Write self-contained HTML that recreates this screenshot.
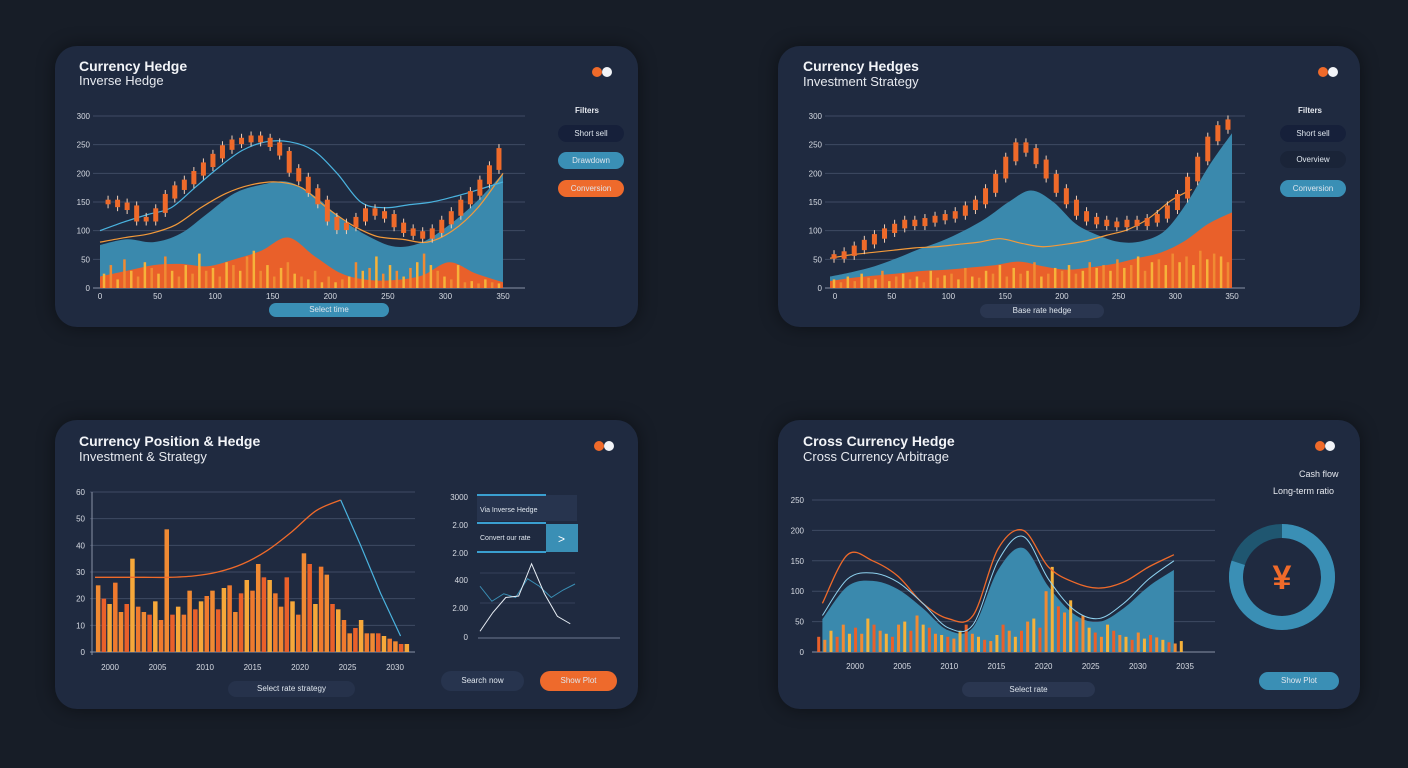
<!DOCTYPE html>
<html><head><meta charset="utf-8">
<style>
html,body{margin:0;padding:0;background:#171d27;width:1408px;height:768px;overflow:hidden;font-family:"Liberation Sans",sans-serif}
.panel{position:absolute;background:#1f2a40;border-radius:22px;box-shadow:0 0 18px rgba(0,0,0,.45)}
.t1{position:absolute;color:#f2f4f8;font-size:14px;font-weight:bold;white-space:nowrap}
.t2{position:absolute;color:#e6e9ef;font-size:13px;white-space:nowrap}
.btn{position:absolute;border-radius:10px;color:#dfe6ee;font-size:8px;text-align:center}
svg{position:absolute;left:0;top:0}
</style></head><body>
<div class="panel" style="left:55px;top:46px;width:583px;height:281px"></div>
<div class="panel" style="left:778px;top:46px;width:582px;height:281px"></div>
<div class="panel" style="left:55px;top:420px;width:583px;height:289px"></div>
<div class="panel" style="left:778px;top:420px;width:582px;height:289px"></div>

<div class="t1" style="left:79px;top:58px">Currency Hedge</div>
<div class="t2" style="left:79px;top:73px">Inverse Hedge</div>
<div class="t1" style="left:803px;top:58px">Currency Hedges</div>
<div class="t2" style="left:803px;top:74px">Investment Strategy</div>
<div class="t1" style="left:79px;top:433px">Currency Position &amp; Hedge</div>
<div class="t2" style="left:79px;top:449px">Investment &amp; Strategy</div>
<div class="t1" style="left:803px;top:433px">Cross Currency Hedge</div>
<div class="t2" style="left:803px;top:449px">Cross Currency Arbitrage</div>

<div class="t2" style="left:575px;top:106px;font-size:8px;font-weight:bold">Filters</div>
<div class="btn" style="left:558px;top:125px;width:66px;height:17px;line-height:17px;background:#16203a">Short sell</div>
<div class="btn" style="left:558px;top:152px;width:66px;height:17px;line-height:17px;background:#3a8fb5">Drawdown</div>
<div class="btn" style="left:558px;top:180px;width:66px;height:17px;line-height:17px;background:#ee6a2c">Conversion</div>
<div class="btn" style="left:269px;top:303px;width:120px;height:14px;line-height:14px;background:#3a8fb5;border-radius:8px">Select time</div>

<div class="t2" style="left:1298px;top:106px;font-size:8px;font-weight:bold">Filters</div>
<div class="btn" style="left:1280px;top:125px;width:66px;height:17px;line-height:17px;background:#16203a">Short sell</div>
<div class="btn" style="left:1280px;top:151px;width:66px;height:17px;line-height:17px;background:#1a2438">Overview</div>
<div class="btn" style="left:1280px;top:180px;width:66px;height:17px;line-height:17px;background:#3a8fb5">Conversion</div>
<div class="btn" style="left:980px;top:304px;width:124px;height:14px;line-height:14px;background:#2a3650;border-radius:8px">Base rate hedge</div>

<div class="btn" style="left:228px;top:681px;width:127px;height:16px;line-height:16px;background:#26324b">Select rate strategy</div>
<div class="btn" style="left:441px;top:671px;width:83px;height:20px;line-height:20px;background:#27344e">Search now</div>
<div class="btn" style="left:540px;top:671px;width:77px;height:20px;line-height:20px;background:#ee6a2c">Show Plot</div>
<div class="btn" style="left:962px;top:682px;width:133px;height:15px;line-height:15px;background:#2a3650">Select rate</div>
<div class="btn" style="left:1259px;top:672px;width:80px;height:18px;line-height:18px;background:#3a8fb5">Show Plot</div>
<div class="t2" style="left:1299px;top:469px;font-size:9px">Cash flow</div>
<div class="t2" style="left:1273px;top:486px;font-size:9px">Long-term ratio</div>

<svg id="c" width="1408" height="768"></svg>
<script>
// ---- data ----
const p1Ticks=["300","250","200","150","100","50","0"];
const p1XLabels=["0","50","100","150","200","250","300","350"];
const p1Blue=[75,85,80,95,130,165,180,185,160,120,90,72,80,110,150,200];
const p1Orange=[20,30,40,42,38,50,65,88,55,25,14,14,22,45,25,10];
const p1Bars=[25,40,15,50,30,20,45,35,25,55,30,20,40,25,60,30,35,20,45,40,30,55,65,30,40,20,35,45,25,20,15,30,10,20,10,15,20,45,30,35,55,25,40,30,20,35,45,60,40,30,20,15,40,10,12,8,15,10,8];
const p1Candles=[150,145,140,120,120,135,160,175,185,200,215,230,245,255,258,262,258,250,235,205,190,170,150,120,105,110,120,135,130,125,110,100,95,90,100,115,130,150,165,185,210,240];
const p1LineBlue=[100,115,128,140,175,210,240,255,255,240,200,150,140,145,150,160,172,185];
const p1LineOrange=[80,88,95,110,140,165,180,185,175,140,110,90,85,80,100,140,200];

const p2Blue=[20,28,38,52,68,82,100,122,150,170,150,112,92,80,82,100,150,215,270];
const p2Orange=[12,18,22,26,30,32,36,40,46,38,32,36,42,52,62,82,112,132];
const p2Bars=[15,10,20,12,25,18,15,30,12,20,25,15,20,10,30,18,22,25,15,35,20,18,30,25,40,20,35,25,30,45,20,25,35,30,40,25,30,45,35,40,30,50,35,40,55,30,45,50,40,60,45,55,40,65,50,60,55,45];
const p2Candles=[55,60,70,80,90,100,108,115,112,118,122,125,130,140,150,170,195,225,250,240,220,195,170,150,130,120,115,112,110,115,112,118,125,140,160,190,225,260,280,290];

const p3Ticks=["60","50","40","30","20","10","0"];
const p3XLabels=["2000","2005","2010","2015","2020","2025","2030"];
const p3Bars=[25,20,18,26,15,18,35,17,15,14,19,12,46,14,17,14,23,16,19,21,23,16,24,25,15,22,27,23,33,28,27,22,17,28,19,14,37,33,18,32,29,18,16,12,7,9,12,7,7,7,6,5,4,3,3];
const p3Line=[28,28,28,28,28.5,30,33,38,45,53,57];
const p3Blue=[57,40,22,6];
const miniWhite=[0.5,3,5,5.2,9.5,5.5,2.5,1.5];
const miniBlue=[6.5,4.5,5.5,5,7.5,6.5,5,6,6.8];

const p4Ticks=["250","200","150","100","50","0"];
const p4XLabels=["2000","2005","2010","2015","2020","2025","2030","2035","2040"];
const p4Blue=[60,120,130,115,80,40,45,150,190,120,70,55,80,120,150];
const p4Orange=[80,160,150,125,80,55,60,170,200,140,115,105,115,140,160];
const p4Bars=[25,20,35,25,45,30,40,30,55,45,35,30,25,45,50,35,60,45,40,30,28,25,22,35,45,30,25,20,18,28,45,35,25,35,50,55,40,100,140,75,65,85,50,60,40,32,25,45,35,28,25,20,32,22,28,24,20,16,14,18];
const donutValue=[0.8];

// ---- helpers ----
const svg=document.getElementById('c');
const NS='http://www.w3.org/2000/svg';
function mk(tag,attrs,parent){const e=document.createElementNS(NS,tag);for(const k in attrs)e.setAttribute(k,attrs[k]);(parent||svg).appendChild(e);return e;}
function smooth(pts){let d='M'+pts[0][0]+','+pts[0][1];for(let i=0;i<pts.length-1;i++){const p0=pts[i-1]||pts[i],p1=pts[i],p2=pts[i+1],p3=pts[i+2]||p2;d+=' C'+(p1[0]+(p2[0]-p0[0])/6)+','+(p1[1]+(p2[1]-p0[1])/6)+' '+(p2[0]-(p3[0]-p1[0])/6)+','+(p2[1]-(p3[1]-p1[1])/6)+' '+p2[0]+','+p2[1];}return d;}
function axes(x0,x1,yTop,yBot,vmax){return{x:(f)=>x0+f*(x1-x0),y:(v)=>yBot-v/vmax*(yBot-yTop)};}
function series(arr,ax,xa,xb){return arr.map((v,i)=>[ax.x(xa+(xb-xa)*i/(arr.length-1)),ax.y(v)]);}
function grid(x0,x1,yTop,yBot,ticks,lx){ticks.forEach((t,i)=>{const y=yTop+i*(yBot-yTop)/(ticks.length-1);
 const l=mk('line',{x1:x0,x2:x1,y1:y,y2:y,stroke:i==ticks.length-1?'#8a93a6':'#3f4a63','stroke-width':1});
 
 const tx=mk('text',{x:lx,y:y+3,fill:'#d7dbe3','font-size':8,'text-anchor':'end','font-family':'Liberation Sans'});tx.textContent=t;
 });}
function xlabels(x0,x1,y,labels){labels.forEach((t,i)=>{const tx=mk('text',{x:x0+i*(x1-x0)/(labels.length-1),y:y,fill:'#d7dbe3','font-size':8,'text-anchor':'middle','font-family':'Liberation Sans'});tx.textContent=t;
 });}
function area(arr,ax,xa,xb,fill,name){const p=series(arr,ax,xa,xb);const d=smooth(p)+' L'+p[p.length-1][0]+','+ax.y(0)+' L'+p[0][0]+','+ax.y(0)+'Z';
 const e=mk('path',{d:d,fill:fill});}
function line(arr,ax,xa,xb,col,w,name){const e=mk('path',{d:smooth(series(arr,ax,xa,xb)),fill:'none',stroke:col,'stroke-width':w});}
function pline(arr,ax,xa,xb,col,w,name){const e=mk('polyline',{points:series(arr,ax,xa,xb).map(p=>p.join(',')).join(' '),fill:'none',stroke:col,'stroke-width':w});}
function bars(arr,ax,xa,xb,bw,cols,name){arr.forEach((v,i)=>{const x=ax.x(xa+(xb-xa)*i/(arr.length-1));const r=mk('rect',{x:x-bw/2,y:ax.y(v),width:bw,height:ax.y(0)-ax.y(v),fill:cols[i%cols.length]});
 });}
function candles(arr,ax,xa,xb,name){arr.forEach((v,i)=>{const x=ax.x(xa+(xb-xa)*i/(arr.length-1));const prev=i?arr[i-1]:v;const top=ax.y(Math.max(v,prev)+4),bot=ax.y(Math.min(v,prev)-4);
 mk('line',{x1:x,x2:x,y1:top-4,y2:bot+4,stroke:'#f2d0b8','stroke-width':1});
 const r=mk('rect',{x:x-2.5,y:top,width:5,height:Math.max(4,bot-top),fill:'#ef6a2a'});});}

// ---- panel 1 ----
let a=axes(100,503,116,288,300);
grid(93,525,116,288,p1Ticks,90);
xlabels(100,503,299,p1XLabels);
area(p1Blue,a,0.0,1,'#3a89ad','blue-area');
area(p1Orange,a,0.0,1,'#e9602a','orange-area');
bars(p1Bars,a,0.01,0.99,2.5,['#f6b23a','#f08a33'],'volume-bar');
line(p1LineOrange,a,0.0,1,'#f39a3a',1.2,'orange-line');
line(p1LineBlue,a,0.0,1,'#4ab3df',1.2,'blue-line');
candles(p1Candles,a,0.02,0.99,'candle');

// ---- panel 2 ----
a=axes(830,1232,116,288,300);
grid(825,1245,116,288,p1Ticks,822);
xlabels(835,1232,299,p1XLabels);
area(p2Blue,a,0,1,'#3a89ad','blue-area');
area(p2Orange,a,0,1,'#e9602a','orange-area');
bars(p2Bars,a,0.01,0.99,2.5,['#f6b23a','#f08a33'],'volume-bar');
line(p2Orange.map(v=>v+40),a,0,0.9,'#f39a3a',1.2,'orange-line');
candles(p2Candles,a,0.01,0.99,'candle');

// ---- panel 3 ----
a=axes(95,410,492,652,60);
grid(90,415,492,652,p3Ticks,85);
mk('line',{x1:92,x2:92,y1:492,y2:655,stroke:'#8a93a6'});
xlabels(110,395,670,p3XLabels);
bars(p3Bars,a,0.01,0.99,4.5,['#f08a33','#e9602a','#f6a83a','#ef7a2e'],'bar');
line(p3Line,a,0,0.78,'#ef6a2a',1.3,'orange-line');
pline(p3Blue,a,0.78,0.97,'#4ab3df',1.2,'blue-line');
// mini chart
const m=axes(480,575,560,635,10);
[["3000",497],["2.00",525],["2.00",553],["400",580],["2.00",608],["0",637]].forEach(t=>{const tx=mk('text',{x:468,y:t[1]+3,fill:'#d7dbe3','font-size':8,'text-anchor':'end'});tx.textContent=t[0];});
mk('rect',{x:477,y:495,width:100,height:26,fill:'#27344e'});
mk('rect',{x:546,y:524,width:32,height:28,fill:'#3a8fb5'});
mk('line',{x1:477,x2:546,y1:495,y2:495,stroke:'#3a9fd0','stroke-width':2});
mk('line',{x1:477,x2:546,y1:523,y2:523,stroke:'#3a9fd0','stroke-width':2});
mk('line',{x1:477,x2:546,y1:552,y2:552,stroke:'#3a9fd0','stroke-width':2});
mk('line',{x1:480,x2:575,y1:573,y2:573,stroke:'#34405a'});
mk('line',{x1:480,x2:575,y1:603,y2:603,stroke:'#34405a'});
let tx=mk('text',{x:480,y:512,fill:'#dfe6ee','font-size':7});tx.textContent='Via Inverse Hedge';
tx=mk('text',{x:480,y:540,fill:'#dfe6ee','font-size':7});tx.textContent='Convert our rate';
tx=mk('text',{x:558,y:543,fill:'#fff','font-size':12});tx.textContent='>';
mk('line',{x1:478,x2:620,y1:638,y2:638,stroke:'#6d7890'});
pline(miniBlue,m,0,1,'#3a8fb5',1,'mini-blue-line');
pline(miniWhite,m,0,0.95,'#e8eef5',1,'mini-white-line');
// ---- panel 4 ----
a=axes(815,1185,500,652,250);
grid(812,1215,500,652,p4Ticks,804);
xlabels(855,1185,669,p4XLabels.slice(0,8));
area(p4Blue.map(v=>v*0.9),a,0.02,0.97,'#3a89ad','blue-area');
bars(p4Bars,a,0.01,0.99,3,['#e9602a','#f08a33','#f6b23a'],'bar');
line(p4Orange,a,0.02,0.97,'#ef6a2a',1.3,'orange-line');
line(p4Blue,a,0.02,0.97,'#8fd3f0',1,'light-line');
// donut
const cx=1282,cy=577,R=46;
mk('circle',{cx:cx,cy:cy,r:R,fill:'none',stroke:'#1f5670','stroke-width':14});
const ang=donutValue[0]*2*Math.PI;
const arc=mk('path',{d:'M'+cx+','+(cy-R)+' A'+R+','+R+' 0 '+(ang>Math.PI?1:0)+' 1 '+(cx+R*Math.sin(ang))+','+(cy-R*Math.cos(ang)),fill:'none',stroke:'#3a8fb5','stroke-width':14});

tx=mk('text',{x:cx,y:cy+12,fill:'#ef6a2a','font-size':34,'text-anchor':'middle','font-weight':'bold'});tx.textContent='¥';

// icons
[[602,72],[1328,72],[604,446],[1325,446]].forEach(p=>{mk('circle',{cx:p[0]-5,cy:p[1],r:5,fill:'#ef6a2a'});mk('circle',{cx:p[0]+5,cy:p[1],r:5,fill:'#f2f4f8'});});
</script>
</body></html>
